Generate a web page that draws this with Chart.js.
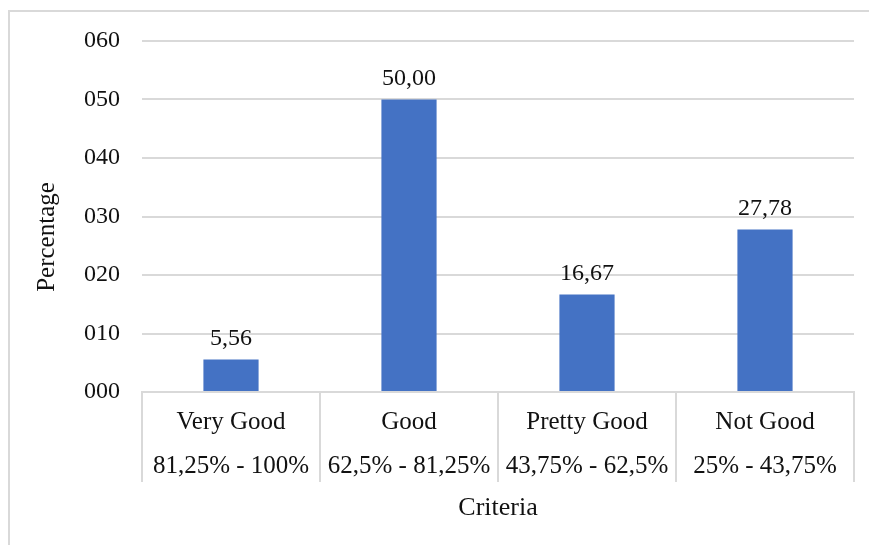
<!DOCTYPE html>
<html lang="en">
<head>
    <meta charset="UTF-8">
    <title>Criteria Percentage</title>
    <style>
        html, body { margin: 0; padding: 0; background: #fff; overflow: hidden; }
        #wrap { position: relative; width: 869px; height: 545px; }
        #frame {
            position: absolute; left: 8px; top: 10px; width: 880px; height: 560px;
            border-left: 2px solid #d9d9d9; border-top: 2px solid #d9d9d9;
            pointer-events: none;
        }
    </style>
</head>
<body>
<div id="wrap">
    <canvas id="chart" width="869" height="545"></canvas>
    <div id="frame"></div>
</div>

<script src="https://cdn.jsdelivr.net/npm/chart.js"></script>
<script>
    // 카테고리 (두 줄 라벨: 이름 / 범위)
    const criteriaNames = ['Very Good', 'Good', 'Pretty Good', 'Not Good'];
    const criteriaRanges = ['81,25% - 100%', '62,5% - 81,25%', '43,75% - 62,5%', '25% - 43,75%'];
    // 막대 값 (%)
    const percentages = [5.56, 50.00, 16.67, 27.78];
    // y축 눈금
    const yTickValues = [0, 10, 20, 30, 40, 50, 60];

    const serif = 'Liberation Serif, Times New Roman, serif';
    const gridColor = '#d9d9d9';

    const labels = criteriaNames.map((name, i) => [name, criteriaRanges[i]]);

    // 막대 위에 값 표시 (소수점 콤마)
    const valueLabels = {
        id: 'valueLabels',
        afterDatasetsDraw(chart) {
            const ctx = chart.ctx;
            const meta = chart.getDatasetMeta(0);
            ctx.save();
            ctx.font = '24px ' + serif;
            ctx.fillStyle = '#111';
            ctx.textAlign = 'center';
            ctx.textBaseline = 'bottom';
            meta.data.forEach((bar, i) => {
                const text = percentages[i].toFixed(2).replace('.', ',');
                ctx.fillText(text, bar.x, bar.y - 9);
            });
            ctx.restore();
        }
    };

    // y축 제목: 원본처럼 조금 아래쪽에 배치
    const yTitle = {
        id: 'yTitle',
        afterDraw(chart) {
            const ctx = chart.ctx;
            const area = chart.chartArea;
            ctx.save();
            ctx.translate(47, area.bottom - 155);
            ctx.rotate(-Math.PI / 2);
            ctx.font = '25px ' + serif;
            ctx.fillStyle = '#111';
            ctx.textAlign = 'center';
            ctx.textBaseline = 'middle';
            ctx.fillText('Percentage', 0, 0);
            ctx.restore();
        }
    };

    new Chart(document.getElementById('chart').getContext('2d'), {
        type: 'bar',
        data: {
            labels: labels,
            datasets: [{
                data: percentages,
                backgroundColor: '#4472c4',
                borderWidth: 0,
                categoryPercentage: 1,
                barPercentage: 0.31
            }]
        },
        options: {
            responsive: false,
            animation: false,
            layout: { padding: { left: 0, right: 15, top: 41, bottom: 0 } },
            plugins: {
                legend: { display: false },
                tooltip: { enabled: false }
            },
            scales: {
                x: {
                    afterFit(scale) { scale.height = 153; },
                    grid: {
                        offset: true,
                        drawOnChartArea: false,
                        drawTicks: true,
                        tickLength: 90,
                        color: gridColor,
                        lineWidth: 2
                    },
                    border: { display: true, color: gridColor, width: 2 },
                    ticks: {
                        padding: -82,
                        maxRotation: 0,
                        autoSkip: false,
                        color: '#111',
                        font: { family: serif, size: 25, lineHeight: 1.76 }
                    },
                    title: {
                        display: true,
                        text: 'Criteria',
                        color: '#111',
                        padding: { top: 0, bottom: 21 },
                        font: { family: serif, size: 26 }
                    }
                },
                y: {
                    min: 0,
                    max: 60,
                    afterFit(scale) { scale.width = 142; },
                    afterBuildTicks(scale) {
                        scale.ticks = yTickValues.map(v => ({ value: v }));
                    },
                    grid: { color: gridColor, lineWidth: 2, drawTicks: false },
                    border: { display: false },
                    ticks: {
                        padding: 22,
                        color: '#111',
                        font: { family: serif, size: 24 },
                        callback: (v) => String(v).padStart(3, '0')
                    }
                }
            }
        },
        plugins: [valueLabels, yTitle]
    });
</script>
</body>
</html>
